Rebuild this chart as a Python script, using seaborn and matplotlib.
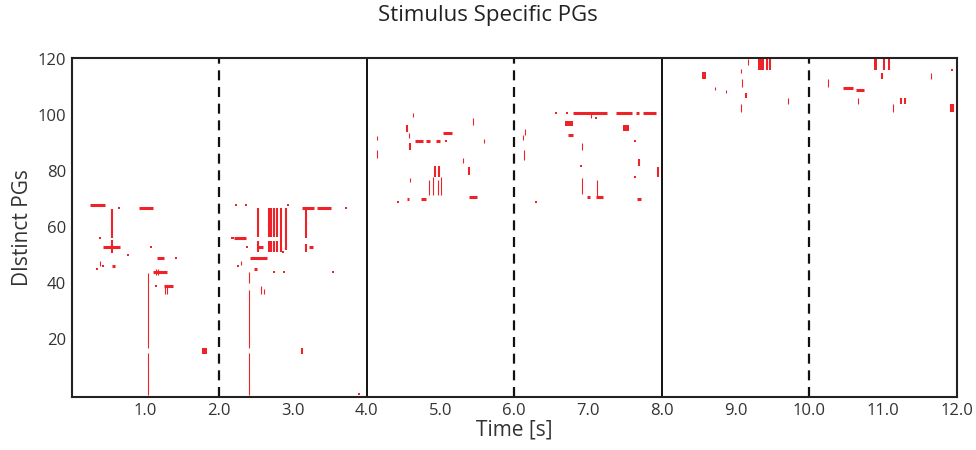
import matplotlib
matplotlib.use("Agg")
import matplotlib.pyplot as plt
import seaborn as sns
import pandas as pd

# ---------------- data ----------------
# horizontal bars: PG active over a time span
hbar_t0 = [0.25, 0.91, 0.42, 1.16, 1.11, 1.25, 0.55,
           2.20, 2.42, 2.47, 3.12, 3.32, 2.53, 3.22,
           4.65, 4.80, 4.94, 5.04, 4.54, 4.73, 5.38,
           6.80, 7.38, 7.65, 7.75, 6.73, 6.99, 7.11, 7.67,
           10.46, 10.63]
hbar_t1 = [0.46, 1.11, 0.65, 1.25, 1.29, 1.38, 0.59,
           2.36, 2.65, 2.52, 3.28, 3.51, 2.60, 3.27,
           4.77, 4.86, 4.99, 5.16, 4.58, 4.81, 5.49,
           7.26, 7.60, 7.69, 7.92, 6.80, 7.02, 7.20, 7.72,
           10.59, 10.74]
hbar_pg = [67.8, 66.8, 53.0, 49.0, 44.0, 39.0, 46.0,
           56.0, 49.0, 45.0, 66.8, 66.8, 53.0, 53.0,
           90.7, 90.7, 90.7, 93.8, 70.0, 70.0, 70.7,
           100.7, 100.7, 100.7, 100.7, 92.9, 70.7, 70.7, 70.0,
           109.6, 109.0]

# filled blocks (several neighbouring PGs over a span)
blk_t0 = [1.77, 6.69, 7.48, 8.55, 9.30, 10.87]
blk_t1 = [1.84, 6.79, 7.56, 8.60, 9.39, 10.91]
blk_pg0 = [14.6, 96.0, 94.3, 113.0, 116.0, 116.0]
blk_pg1 = [17.0, 98.0, 96.4, 115.4, 120.0, 120.0]

# thick vertical bars: many PGs at one time
vthick_t = [0.555, 0.555, 2.53, 2.53, 2.68, 2.68, 2.71, 2.71, 2.75, 2.75,
            2.78, 2.78, 2.84, 2.91, 3.18, 3.18, 3.12, 4.59, 5.38, 4.93,
            4.98, 7.69, 7.95, 9.43, 9.47, 11.01, 11.08, 10.99, 11.24, 11.30,
            11.92, 11.95, 9.14, 4.54]
vthick_pg0 = [56.0, 50.7, 56.5, 51.0, 56.5, 51.0, 56.5, 51.0, 56.5, 51.0,
              56.5, 51.0, 51.0, 52.0, 56.0, 51.0, 14.6, 87.5, 78.6, 78.0,
              78.0, 82.0, 78.0, 116.0, 116.0, 116.0, 116.0, 113.0, 104.0, 104.0,
              101.0, 101.0, 106.0, 94.0]
vthick_pg1 = [66.4, 55.3, 67.0, 55.0, 67.0, 55.0, 67.0, 55.0, 67.0, 55.0,
              67.0, 55.0, 67.0, 67.0, 67.0, 54.0, 17.0, 90.0, 81.4, 82.0,
              82.0, 84.3, 81.4, 120.0, 120.0, 120.0, 120.0, 115.0, 106.0, 106.0,
              104.0, 104.0, 108.0, 96.4]

# thin vertical bars
vthin_t = [1.03, 1.03, 2.41, 2.41, 2.41, 0.39, 4.14, 4.14, 4.63, 4.58,
           5.44, 5.31, 4.85, 4.90, 4.96, 5.01, 4.59, 5.59, 6.15, 6.12,
           6.13, 7.04, 6.92, 6.92, 7.12, 9.17, 9.07, 9.09, 9.07, 9.71,
           10.25, 10.66, 11.13, 11.65, 2.57, 2.61, 1.27, 1.30, 1.15, 1.17,
           2.30, 8.72, 8.87]
vthin_pg0 = [17.0, 0.0, 40.0, 17.0, 0.0, 46.0, 91.0, 84.6, 99.3, 92.0,
             96.4, 82.9, 71.4, 71.4, 71.4, 71.4, 76.0, 90.0, 93.0, 91.0,
             84.0, 99.0, 87.5, 72.0, 70.4, 118.0, 115.0, 110.0, 101.0, 104.0,
             110.0, 104.0, 101.0, 113.0, 36.0, 36.0, 36.0, 36.0, 43.0, 43.0,
             46.5, 109.0, 108.0]
vthin_pg1 = [43.6, 15.0, 44.0, 37.5, 15.0, 48.0, 92.5, 87.5, 100.7, 93.6,
             99.0, 84.6, 76.8, 78.0, 76.8, 78.0, 77.5, 91.5, 95.0, 93.0,
             87.5, 100.7, 90.0, 77.5, 76.8, 120.0, 116.5, 113.0, 104.0, 106.0,
             113.0, 106.0, 104.0, 115.0, 39.0, 38.0, 39.0, 39.0, 45.0, 45.0,
             48.0, 110.0, 109.0]

# isolated single activations
dot_t = [0.64, 0.38, 1.08, 0.76, 1.42, 0.43, 0.35, 1.15,
         2.23, 2.37, 2.94, 3.72, 2.17, 2.19, 2.38, 2.26, 2.75, 2.88, 3.55, 2.87, 3.89,
         5.08, 4.42, 6.57, 6.72, 7.11, 7.63, 6.91, 7.64, 6.30, 11.93]
dot_pg = [67.0, 56.0, 53.0, 50.0, 49.0, 46.0, 45.0, 39.0,
          68.0, 68.0, 68.0, 67.0, 56.0, 56.0, 53.0, 46.0, 44.0, 44.0, 44.0, 51.0, 0.5,
          90.7, 69.0, 100.7, 100.7, 99.0, 90.7, 82.0, 78.0, 69.0, 116.0]

dashed_t = [2.0, 6.0, 10.0]
solid_t = [4.0, 8.0]
x_ticks = [1.0, 2.0, 3.0, 4.0, 5.0, 6.0, 7.0, 8.0, 9.0, 10.0, 11.0, 12.0]
y_ticks = [20, 40, 60, 80, 100, 120]

# ---------------- plotting ----------------
sns.set_theme(style="white")
plt.rcParams["font.family"] = ["Open Sans", "DejaVu Sans"]

RED = "#ee2329"
fig = plt.figure(figsize=(9.76, 4.5), dpi=100)
ax = fig.add_axes([0.0733, 0.1178, 0.9072, 0.7532])

ax.hlines(hbar_pg, hbar_t0, hbar_t1, colors=RED, linewidth=2.2)
ax.vlines(vthick_t, vthick_pg0, vthick_pg1, colors=RED, linewidth=1.5)
ax.vlines(vthin_t, vthin_pg0, vthin_pg1, colors=RED, linewidth=0.8)
ax.bar([a for a in blk_t0], [p1 - p0 for p0, p1 in zip(blk_pg0, blk_pg1)],
       width=[b - a for a, b in zip(blk_t0, blk_t1)], bottom=blk_pg0,
       align="edge", color=RED, linewidth=0)
dots = pd.DataFrame({"t": dot_t, "pg": dot_pg})
sns.scatterplot(data=dots, x="t", y="pg", marker="s", s=4, color=RED,
                linewidth=0, ax=ax, legend=False)

for t in dashed_t:
    ax.axvline(t, color="#111111", linewidth=1.6, linestyle=(0, (4.5, 3)))
for t in solid_t:
    ax.axvline(t, color="#111111", linewidth=1.4)

ax.set_xlim(0, 12)
ax.set_ylim(-0.6, 120.4)
ax.set_xticks(x_ticks)
ax.set_xticklabels([f"{v:.1f}" for v in x_ticks])
ax.set_yticks(y_ticks)
ax.tick_params(length=0, labelsize=12, colors="#333333", pad=4)
ax.set_xlabel("Time [s]", fontsize=15, color="#333333", labelpad=1)
ax.set_ylabel("DIstinct PGs", fontsize=15, color="#333333", labelpad=3)
fig.suptitle("Stimulus Specific PGs", fontsize=16, color="#222222", y=0.99)
for s in ax.spines.values():
    s.set_visible(True)
    s.set_color("#222222")
    s.set_linewidth(1.5)

fig.savefig("out.png", dpi=100)
